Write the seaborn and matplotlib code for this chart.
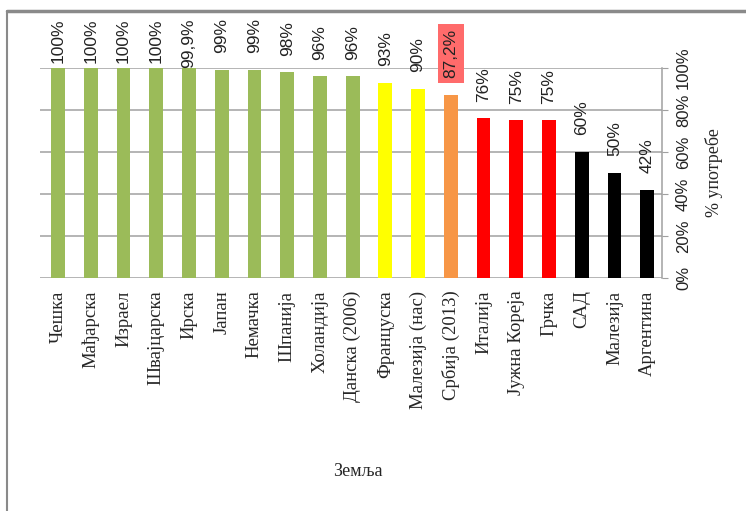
import matplotlib
matplotlib.use('Agg')
import matplotlib.pyplot as plt
import seaborn as sns
import pandas as pd
from matplotlib.lines import Line2D

countries = ['Чешка', 'Мађарска', 'Израел', 'Швајцарска', 'Ирска', 'Јапан',
             'Немачка', 'Шпанија', 'Холандија', 'Данска (2006)', 'Француска',
             'Малезија (нас)', 'Србија (2013)', 'Италија', 'Јужна Кореја',
             'Грчка', 'САД', 'Малезија', 'Аргентина']
usage = [100, 100, 100, 100, 99.9, 99, 99, 98, 96, 96, 93, 90, 87.2,
         76, 75, 75, 60, 50, 42]
value_labels = ['100%', '100%', '100%', '100%', '99,9%', '99%', '99%', '98%',
                '96%', '96%', '93%', '90%', '87,2%', '76%', '75%', '75%',
                '60%', '50%', '42%']
bar_colors = ['#9BBB59'] * 10 + ['#FFFF00'] * 2 + ['#F79646'] + \
             ['#FF0000'] * 3 + ['#000000'] * 3
y_ticks = [0, 20, 40, 60, 80, 100]

df = pd.DataFrame({'Земља': countries, 'usage': usage})

sns.set_style("white")
fig = plt.figure(figsize=(7.46, 5.11), dpi=100)
ax = fig.add_axes([40 / 746, 1 - 278 / 511, 622 / 746, 210 / 511])

sns.barplot(data=df, x='Земља', y='usage', hue='Земља',
            palette=bar_colors, legend=False, width=0.42, ax=ax,
            saturation=1, linewidth=0)

ax.set_ylim(0, 100)
ax.set_xlim(-0.55, len(countries) - 0.55)
ax.set_yticks(y_ticks)
ax.set_yticklabels([f'{t}%' for t in y_ticks], rotation=90, va='center',
                   fontsize=12, family='Liberation Sans', color='#222222')
ax.yaxis.tick_right()
ax.yaxis.set_label_position('right')
ax.tick_params(axis='y', length=4, color='#a0a0a0', pad=6)
ax.grid(axis='y', color='#a0a0a0', linewidth=1.1)
ax.set_axisbelow(True)
for side in ['left', 'top', 'bottom']:
    ax.spines[side].set_visible(False)
ax.spines['right'].set_color('#a0a0a0')
ax.spines['right'].set_linewidth(1.1)

ax.set_xticks(range(len(countries)))
ax.set_xticklabels(countries, rotation=90, va='top', ha='center',
                   fontsize=13.5, family='Liberation Serif')
ax.tick_params(axis='x', length=0, pad=9)

ax.set_ylabel('% употребе', fontsize=13, family='Liberation Serif',
              rotation=90, labelpad=10)
ax.set_xlabel('')
fig.text(358 / 746, 1 - 472 / 511, 'Земља', fontsize=13,
         family='Liberation Serif', ha='center', va='center')

# value labels, pushed down when they would leave the chart area
texts = []
for i, (v, lab) in enumerate(zip(usage, value_labels)):
    kw = {}
    if lab == '87,2%':
        kw['bbox'] = dict(boxstyle='square,pad=0.3', facecolor='#FF6B6B',
                          edgecolor='none')
    t = ax.annotate(lab, (i, v), xytext=(0, 12), textcoords='offset points',
                    rotation=90, ha='center', va='bottom', fontsize=12.5,
                    family='Liberation Sans', color='#222222', **kw)
    texts.append(t)

fig.canvas.draw()
renderer = fig.canvas.get_renderer()
top_limit = 511 - 18
for t in texts:
    bb = t.get_window_extent(renderer)
    if bb.y1 > top_limit:
        dx, dy = t.xyann
        t.xyann = (dx, dy - (bb.y1 - top_limit) * 72 / fig.dpi)

# outer frame
fig.add_artist(Line2D([7 / 746, 1], [1 - 11 / 511, 1 - 11 / 511],
                      color='#8a8a8a', linewidth=2.5))
fig.add_artist(Line2D([7 / 746, 7 / 746], [1 - 11 / 511, 0],
                      color='#8a8a8a', linewidth=1.5))

fig.savefig('out.png', dpi=100)
